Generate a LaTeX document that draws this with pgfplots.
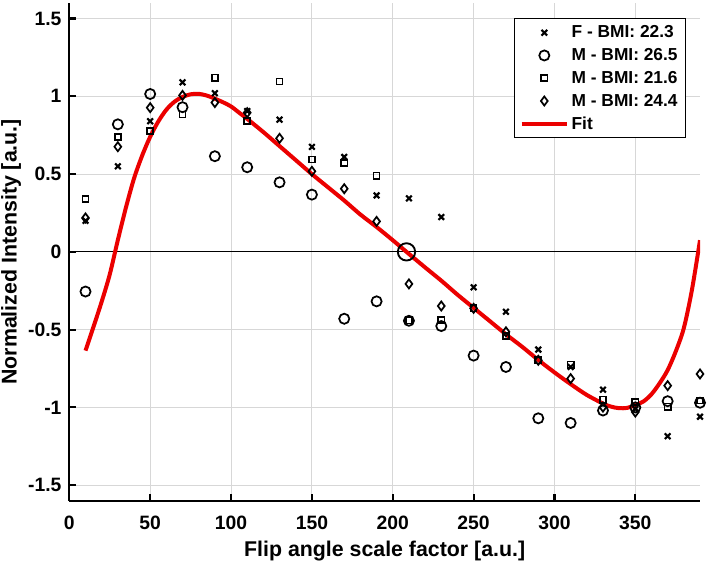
\documentclass[border=0pt]{standalone}
\usepackage{fontspec}
\setmainfont{Liberation Sans}
\usepackage{pgfplots}
\pgfplotsset{compat=1.18}
\usetikzlibrary{calc}
\definecolor{fitred}{RGB}{235,0,0}
\definecolor{gridgray}{RGB}{215,215,215}
\begin{document}
\begin{tikzpicture}
\begin{axis}[
 name=ax,
 scale only axis,
 width=473pt, height=373.3pt,
 xmin=0, xmax=390, ymin=-1.6, ymax=1.6,
 axis x line*=bottom, axis y line*=left,
 axis line style={line width=1.6pt, black},
 xtick={0,50,100,150,200,250,300,350},
 ytick={-1.5,-1,-0.5,0,0.5,1,1.5},
 tick align=inside, major tick length=5pt,
 tick style={line width=1.6pt, black},
 grid=major, major grid style={gridgray, line width=0.8pt},
 /pgf/number format/assume math mode=true,
 tick label style={font=\bfseries\fontsize{14.5}{16}\selectfont},
 xticklabel style={anchor=base, yshift=-21.2pt},
 yticklabel style={anchor=east, inner sep=0pt, xshift=-5.7pt},
 xlabel={Flip angle scale factor [a.u.]},
 ylabel={Normalized Intensity [a.u.]},
 label style={font=\bfseries\fontsize{16}{19}\selectfont},
 xlabel style={at={(axis description cs:0.5,0)}, anchor=base, yshift=-42pt},
 ylabel style={at={(axis description cs:-0.0834,0.5)}, anchor=base},
 legend style={at={(0.978,0.969)}, anchor=north east, draw=black, line width=0.8pt,
   font=\bfseries\fontsize{13}{15}\selectfont, row sep=2.5pt, inner xsep=4pt, inner ysep=3pt,
   /tikz/every even column/.append style={column sep=3pt}},
 legend cell align=left,
 legend image code/.code={\draw[mark repeat=2,mark phase=2,#1] plot coordinates {(0pt,0pt) (17pt,0pt) (34pt,0pt)};},
]
\addplot[black, line width=0.6pt, forget plot] coordinates {(0,0) (390,0)};

\addplot[only marks, mark=x, mark size=3pt, line width=1.6pt, black] coordinates {
(10,0.20) (30,0.55) (50,0.84) (70,1.09) (90,1.02) (110,0.905) (130,0.85) (150,0.675) (170,0.61) (190,0.363)
(210,0.344) (230,0.224) (250,-0.228) (270,-0.385) (290,-0.628) (310,-0.74) (330,-0.886) (350,-1.01) (370,-1.185) (390,-1.06)};
\addlegendentry{F - BMI: 22.3}

\addplot[only marks, mark=o, mark size=3.8pt, line width=1.3pt, black] coordinates {
(10,-0.255) (30,0.82) (50,1.015) (70,0.93) (90,0.615) (110,0.544) (130,0.447) (150,0.368) (170,-0.43) (190,-0.318)
(210,-0.443) (230,-0.477) (250,-0.667) (270,-0.74) (290,-1.07) (310,-1.10) (330,-1.02) (350,-1.0) (370,-0.96) (390,-0.97)};
\addlegendentry{M - BMI: 26.5}

\addplot[only marks, mark=square, mark size=2.3pt, line width=1.2pt, black] coordinates {
(10,0.34) (30,0.74) (50,0.776) (70,0.884) (90,1.12) (110,0.84) (130,1.095) (150,0.594) (170,0.572) (190,0.49)
(210,-0.44) (230,-0.439) (250,-0.363) (270,-0.542) (290,-0.697) (310,-0.725) (330,-0.95) (350,-0.966) (370,-0.995) (390,-0.955)};
\addlegendentry{M - BMI: 21.6}

\addplot[only marks, mark=diamond, mark size=3.4pt, line width=1.3pt, black] coordinates {
(10,0.218) (30,0.676) (50,0.927) (70,1.006) (90,0.96) (110,0.895) (130,0.73) (150,0.518) (170,0.406) (190,0.196)
(210,-0.206) (230,-0.348) (250,-0.363) (270,-0.514) (290,-0.697) (310,-0.815) (330,-0.998) (350,-1.03) (370,-0.86) (390,-0.785)};
\addlegendentry{M - BMI: 24.4}

\addplot[fitred, line width=3pt, smooth, no markers] coordinates {
(10,-0.635) (15,-0.48) (20,-0.32) (25,-0.145) (30,0.076) (35,0.285) (40,0.472) (45,0.618) (50,0.74)
(55,0.838) (60,0.914) (65,0.965) (70,0.996) (75,1.013) (80,1.016) (85,1.005) (90,0.985) (95,0.962)
(100,0.935) (105,0.895) (110,0.855) (120,0.77) (130,0.68) (140,0.59) (150,0.50) (160,0.415) (170,0.33)
(180,0.24) (190,0.16) (200,0.075) (208.5,0) (220,-0.1) (230,-0.185) (240,-0.275) (250,-0.36) (260,-0.445)
(270,-0.53) (280,-0.61) (290,-0.695) (300,-0.775) (310,-0.85) (320,-0.92) (330,-0.975) (335,-0.995)
(340,-1.005) (345,-1.003) (350,-0.985) (355,-0.962) (360,-0.915) (365,-0.845) (370,-0.76) (375,-0.64)
(380,-0.49) (385,-0.245) (390,0.075)};
\addlegendentry{Fit}

\addplot[only marks, mark=o, mark size=6.5pt, line width=1.4pt, black, forget plot] coordinates {(208.5,0)};
\end{axis}
\pgfresetboundingbox
\path[use as bounding box] ($(ax.south west)+(-52pt,-47.5pt)$) rectangle ($(ax.north east)+(6.75pt,2.25pt)$);
\end{tikzpicture}
\end{document}
